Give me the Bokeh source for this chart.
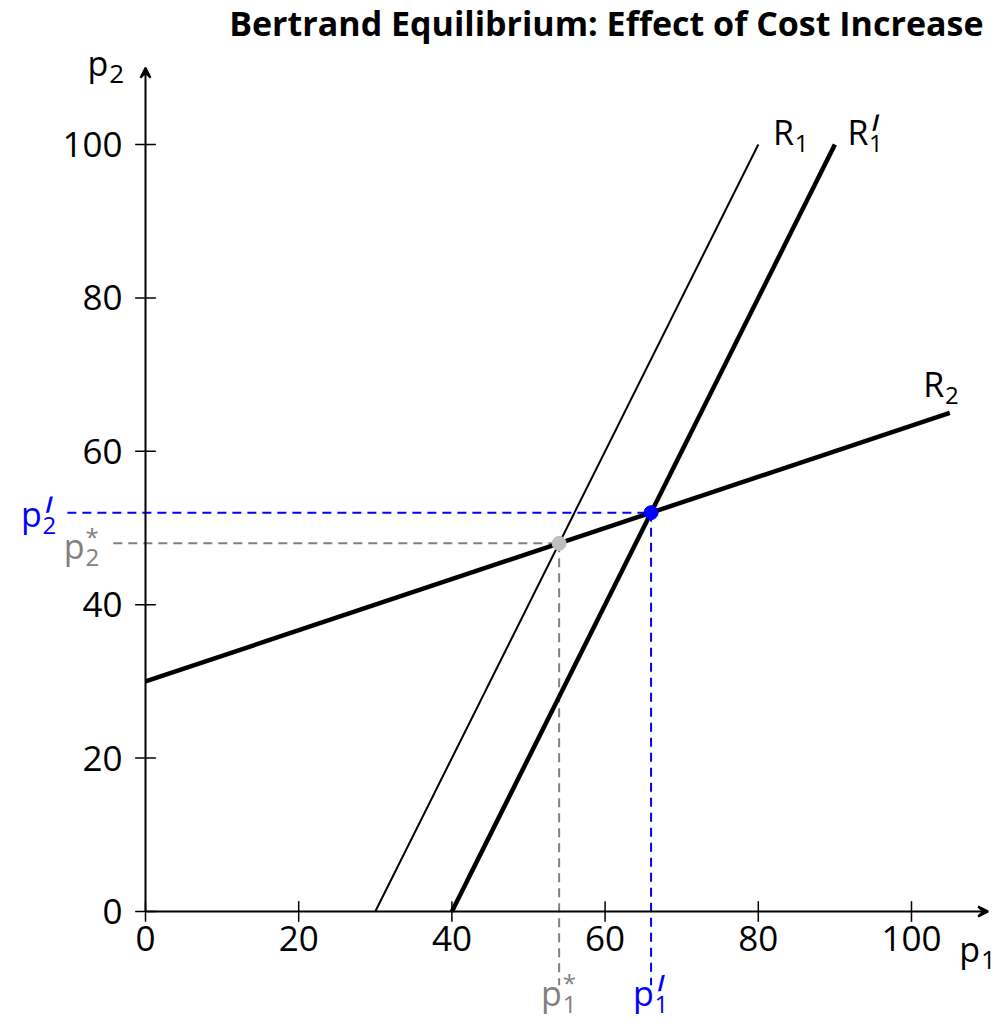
from bokeh.plotting import figure
from bokeh.models import Arrow, VeeHead
from bokeh.core.properties import value
from bokeh.embed import file_html
from bokeh.resources import INLINE

# ---- data ----
r1_p1 = [30, 80]
r1_p2 = [0, 100]
r1n_p1 = [40, 90]
r1n_p2 = [0, 100]
r2_p1 = [0, 105]
r2_p2 = [30, 65]
eq_old = (54, 48)
eq_new = (66, 52)
ticks = [0, 20, 40, 60, 80, 100]
tick_labels = ["0", "20", "40", "60", "80", "100"]
axis_max = 110
title = "Bertrand Equilibrium: Effect of Cost Increase"

FONT = "Open Sans"
BLUE = "#0000ff"
GRAY = "#808080"
LGRAY = "#bfbfbf"

W, H = 1000, 1024
sx = 7.66
sy = 7.67
x0 = -145 / sx
x1 = x0 + W / sx
y1 = 911 / sy
y0 = y1 - H / sy

p = figure(width=W, height=H, x_range=(x0, x1), y_range=(y0, y1),
           output_backend="svg", toolbar_location=None, min_border=0)
p.axis.visible = False
p.grid.visible = False
p.outline_line_color = None

# dashed guide lines
p.line([-10.2, eq_new[0]], [eq_new[1], eq_new[1]], line_color=BLUE, line_width=2, line_dash="9 6")
p.line([eq_new[0], eq_new[0]], [eq_new[1], -9.6], line_color=BLUE, line_width=2, line_dash="9 6")
p.line([-4.2, eq_old[0]], [eq_old[1], eq_old[1]], line_color=GRAY, line_width=2, line_dash="9 6")
p.line([eq_old[0], eq_old[0]], [eq_old[1], -9.6], line_color=GRAY, line_width=2, line_dash="9 6")

# axes
p.add_layout(Arrow(x_start=0, y_start=0, x_end=axis_max, y_end=0, line_width=2,
                   end=VeeHead(size=10, line_width=2, fill_color="black")))
p.add_layout(Arrow(x_start=0, y_start=0, x_end=0, y_end=axis_max, line_width=2,
                   end=VeeHead(size=10, line_width=2, fill_color="black")))
tl = 1.35
p.segment(x0=ticks, y0=[-tl] * len(ticks), x1=ticks, y1=[tl] * len(ticks), line_color="black", line_width=1.5)
p.segment(x0=[-tl] * len(ticks), y0=ticks, x1=[tl] * len(ticks), y1=ticks, line_color="black", line_width=1.5)
p.text(x=ticks, y=[-1.9] * len(ticks), text=tick_labels, text_font=value(FONT), text_font_size="35px",
       text_align="center", text_baseline="top", text_color="black")
p.text(x=[-3.0] * len(ticks), y=ticks, text=tick_labels, text_font=value(FONT), text_font_size="35px",
       text_align="right", text_baseline="middle", text_color="black")

# reaction lines
p.line(r1_p1, r1_p2, line_color="black", line_width=2)
p.line(r1n_p1, r1n_p2, line_color="black", line_width=4.5)
p.line(r2_p1, r2_p2, line_color="black", line_width=4.5)

# equilibrium points
p.scatter([eq_old[0]], [eq_old[1]], size=14, fill_color=LGRAY, line_color=LGRAY)
p.scatter([eq_new[0]], [eq_new[1]], size=14, fill_color=BLUE, line_color=BLUE)


def label(x, y, main, sub=None, sup=None, color="black", size=34, sub_size=24, dx=None):
    p.text(x=[x], y=[y], text=[main], text_font=value(FONT), text_font_size=f"{size}px",
           text_align="center", text_baseline="middle", text_color=color)
    off = dx if dx is not None else size * 0.33
    if sub is not None:
        p.text(x=[x], y=[y], text=[sub], text_font=value(FONT), text_font_size=f"{sub_size}px",
               text_align="left", text_baseline="middle", text_color=color,
               x_offset=off, y_offset=size * 0.33)
    if sup is not None:
        if sup == "′":
            p.text(x=[x], y=[y], text=["/"], text_font=value(FONT), text_font_size="22px",
                   text_font_style="bold", angle=0.12,
                   text_align="left", text_baseline="middle", text_color=color,
                   x_offset=off + 2, y_offset=-size * 0.3)
        else:
            p.text(x=[x], y=[y], text=[sup], text_font=value(FONT), text_font_size=f"{sub_size}px",
                   text_align="left", text_baseline="middle", text_color=color,
                   x_offset=off, y_offset=-size * 0.3)


# curve labels
label(83.3, 101.6, "R", sub="1")
label(93.0, 101.6, "R", sub="1", sup="′")
label(102.9, 68.8, "R", sub="2")
# axis labels
label(-6.2, 110.6, "p", sub="2", sub_size=26)
label(107.6, -4.9, "p", sub="1", sub_size=26)
# equilibrium labels
label(-14.9, 51.8, "p", sub="2", sup="′", color=BLUE)
label(-9.3, 47.6, "p", sub="2", sup="*", color=GRAY)
label(53.0, -10.6, "p", sub="1", sup="*", color=GRAY)
label(65.0, -10.6, "p", sub="1", sup="′", color=BLUE)

# title
p.text(x=[(983 - 145) / sx], y=[(911 - 22) / sy], text=[title], text_font=value("Open Sans"),
       text_font_size="34px", text_font_style="bold", text_align="right", text_baseline="middle",
       text_color="black")

open("out.html", "w").write(file_html(p, INLINE))
